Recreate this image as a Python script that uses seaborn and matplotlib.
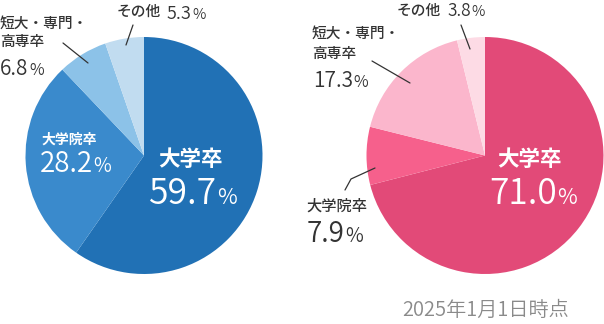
import matplotlib
matplotlib.use('Agg')
import matplotlib.pyplot as plt
import seaborn as sns

sns.set_theme(style='white')
plt.rcParams['font.family'] = ['Noto Sans CJK JP', 'DejaVu Sans']

# ---- data ----
categories = ['大学卒', '大学院卒', '短大・専門・高専卒', 'その他']
values_left = [59.7, 28.2, 6.8, 5.3]
values_right = [71.0, 7.9, 17.3, 3.8]
blue_colors = ['#2171b5', '#3a8acc', '#8cc2e8', '#c1dcf0']
pink_colors = ['#e24a78', '#f6608c', '#fbb6cc', '#fddbe5']
note = '2025年1月1日時点'

W, H = 604, 324
fig = plt.figure(figsize=(W / 100, H / 100), dpi=100)
ax = fig.add_axes([0, 0, 1, 1])


def Y(y):
    return H - y


ax.pie(values_left, colors=blue_colors, startangle=90, counterclock=False,
       center=(144, Y(155.5)), radius=118.5, wedgeprops=dict(linewidth=0))
ax.pie(values_right, colors=pink_colors, startangle=90, counterclock=False,
       center=(485, Y(155.5)), radius=118.5, wedgeprops=dict(linewidth=0))
ax.set_xlim(0, W)
ax.set_ylim(0, H)
ax.set_aspect('equal')
ax.axis('off')

DARK = '#333333'
renderer = fig.canvas.get_renderer()


def label(x, y, s, size, color=DARK, weight='medium'):
    ax.text(x, Y(y), s, fontsize=size, color=color, fontweight=weight,
            ha='left', va='center')


def number(x, base, s, size, psize, color=DARK):
    t = ax.text(x, Y(base), s, fontsize=size, color=color, fontweight=350,
                ha='left', va='baseline')
    bb = t.get_window_extent(renderer)
    ax.text(bb.x1 + 0.5, Y(base), '%', fontsize=psize, color=color,
            fontweight=350, ha='left', va='baseline')


def line(pts):
    xs = [p[0] for p in pts]
    ys = [Y(p[1]) for p in pts]
    ax.plot(xs, ys, color=DARK, lw=0.9)


# left pie labels
label(117, 11.5, categories[3], 10.6)
number(167, 19, f'{values_left[3]:.1f}', 13, 10.5)
label(0, 23.5, '短大・専門・', 10.6)
label(0, 42, '高専卒', 10.6)
number(0, 75, f'{values_left[2]:.1f}', 15, 11.5)
label(42, 139.5, categories[1], 10, color='white', weight='bold')
number(40, 172.5, f'{values_left[1]:.1f}', 20, 14, color='white')
label(158, 160, categories[0], 15.5, color='white', weight='bold')
number(149, 204, f'{values_left[0]:.1f}', 25.5, 15.5, color='white')
line([(133, 25), (126, 45)])
line([(63, 43), (88, 63)])

# right pie labels
label(397, 10.5, categories[3], 10.6)
number(447, 16, f'{values_right[3]:.1f}', 12.5, 10.5)
label(312, 34, '短大・専門・', 10.6)
label(312, 54, '高専卒', 10.6)
number(313, 87, f'{values_right[2]:.1f}', 15, 11.5)
label(306, 206.5, categories[1], 11)
number(307, 242, f'{values_right[1]:.1f}', 20, 14)
label(497, 160, categories[0], 15.5, color='white', weight='bold')
number(489, 204, f'{values_right[0]:.1f}', 25.5, 15.5, color='white')
line([(461, 25), (470, 49)])
line([(372, 61), (410, 83)])
line([(375, 168), (351, 179), (345, 190)])

ax.text(402, Y(310.5), note, fontsize=14.5, color='#8a8a8a', ha='left',
        va='center', fontweight=350)

fig.savefig('out.png', dpi=100)
